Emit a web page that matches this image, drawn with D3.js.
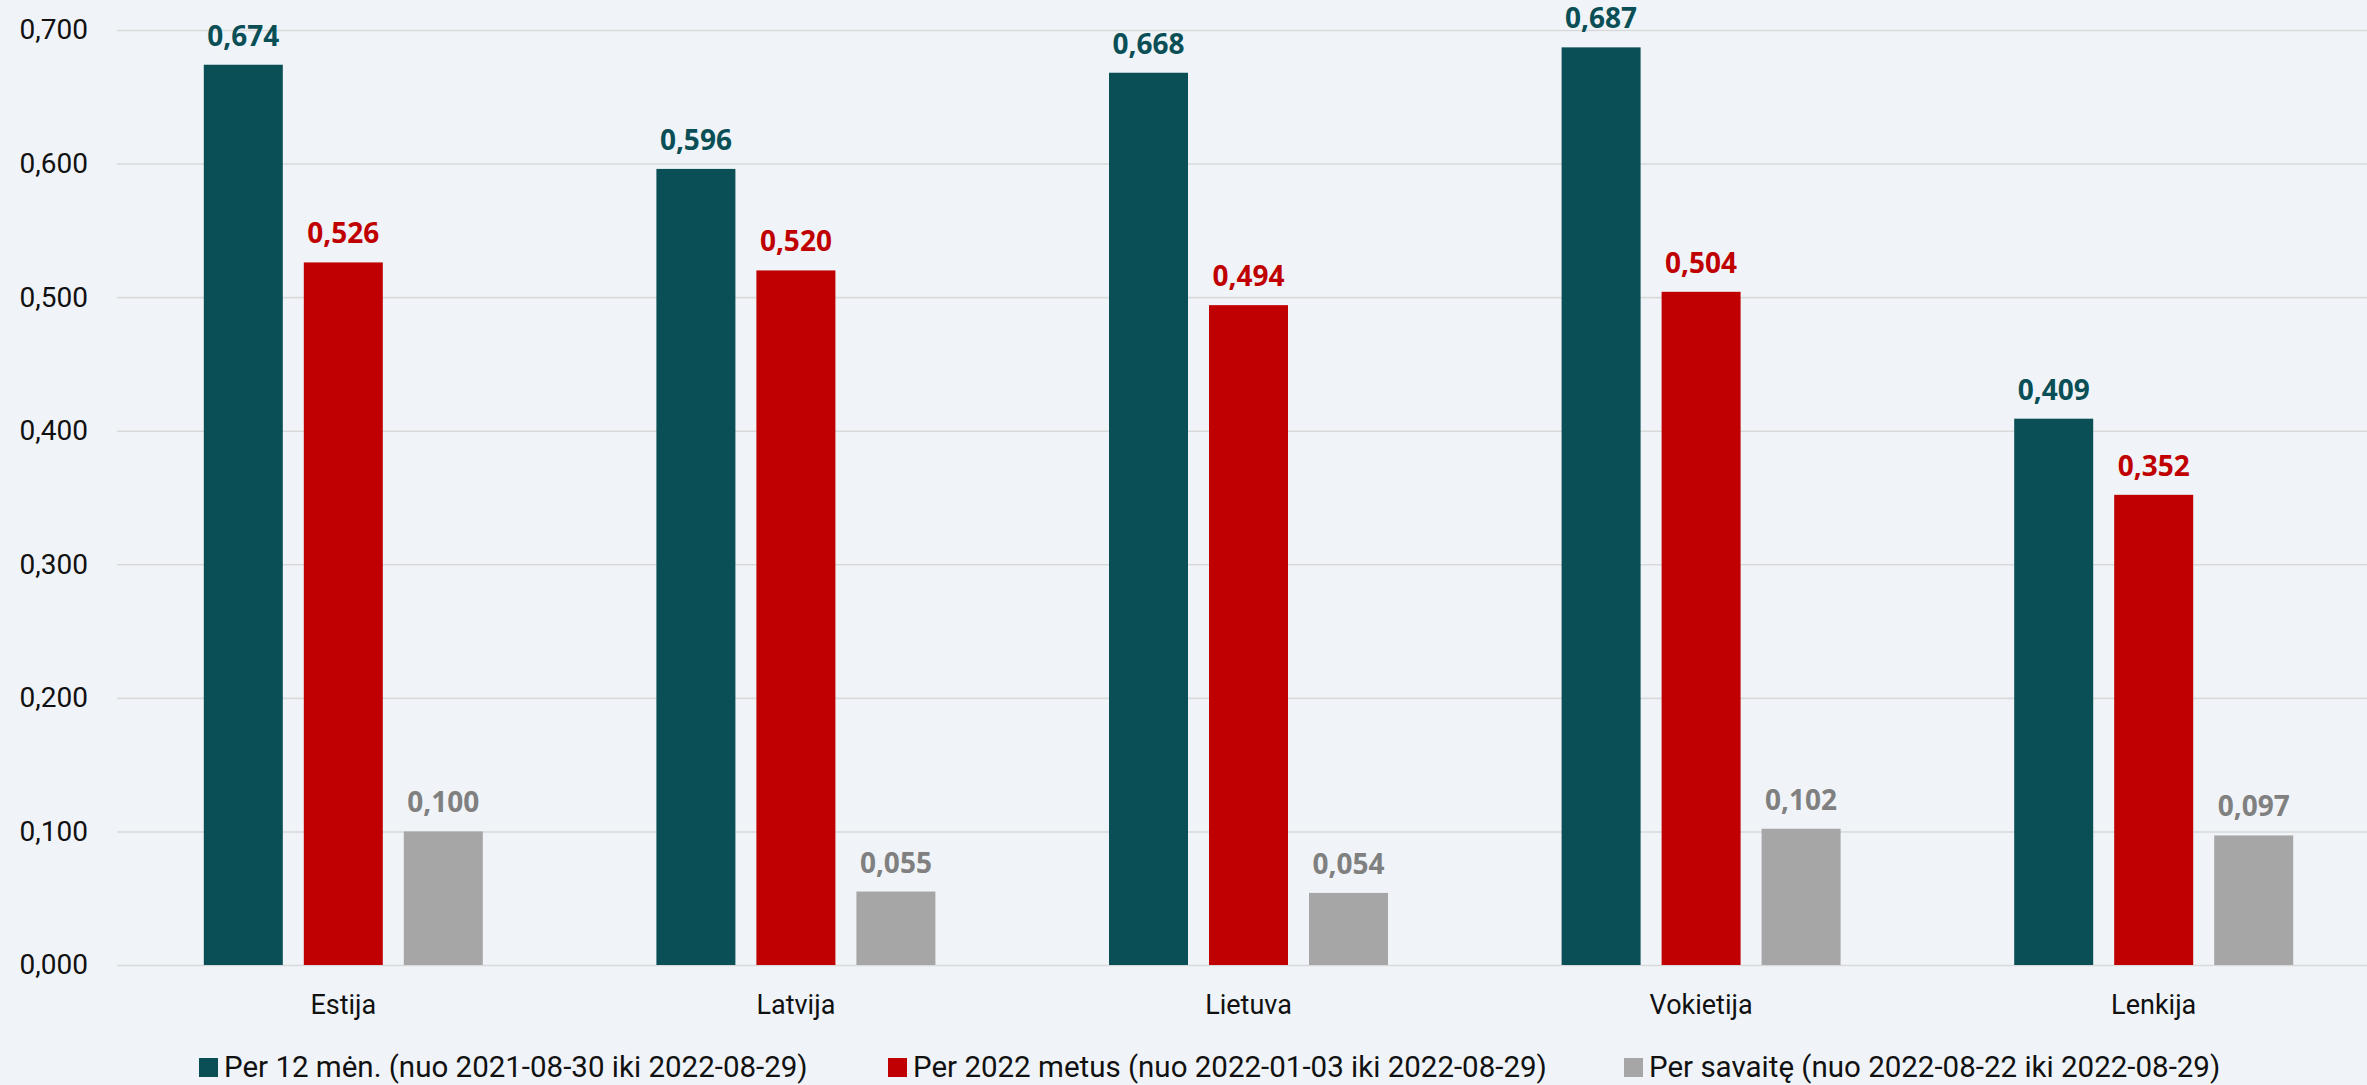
<!DOCTYPE html>
<html><head><meta charset="utf-8">
<script src="https://cdn.jsdelivr.net/npm/d3@7"></script>
<style>
html,body{margin:0;padding:0;background:#F0F4F8;}
svg{display:block;}
</style></head>
<body>
<svg id="chart" width="2367" height="1085"></svg>
<script>
const categories = ["Estija", "Latvija", "Lietuva", "Vokietija", "Lenkija"];
const seriesNames = [
  "Per 12 mėn. (nuo 2021-08-30 iki 2022-08-29)",
  "Per 2022 metus (nuo 2022-01-03 iki 2022-08-29)",
  "Per savaitę (nuo 2022-08-22 iki 2022-08-29)"
];
const s12men = [0.674, 0.596, 0.668, 0.687, 0.409];
const s2022 = [0.526, 0.520, 0.494, 0.504, 0.352];
const sSavaite = [0.100, 0.055, 0.054, 0.102, 0.097];
const yTicks = [0, 0.1, 0.2, 0.3, 0.4, 0.5, 0.6, 0.7];

const barColors = ["#0A4F56", "#C00000", "#A6A6A6"];
const labelColors = ["#0A4F56", "#C00000", "#808080"];
const seriesValues = [s12men, s2022, sSavaite];

const W = 2367, H = 1085;
const plot = {left: 117, right: 2380, top: 30, bottom: 965};
const svg = d3.select("#chart");

const x0 = d3.scaleBand().domain(categories).range([plot.left, plot.right]).padding(0);
const groupW = 279;
const x1 = d3.scaleBand().domain(d3.range(3)).range([0, groupW]).paddingInner(0.21).paddingOuter(0);
const y = d3.scaleLinear().domain([0, 0.7]).range([plot.bottom, plot.top]);

const fmt = v => d3.format(".3f")(v).replace(".", ",");

// gridlines
const yAxis = d3.axisLeft(y).tickValues(yTicks).tickSize(-(plot.right - plot.left)).tickFormat(fmt).tickPadding(29);
const gy = svg.append("g").attr("transform", `translate(${plot.left},0)`).call(yAxis);
gy.select(".domain").remove();
gy.selectAll(".tick line").attr("stroke", "#D9D9D9").attr("stroke-width", 1.6);
gy.selectAll(".tick text").attr("fill", "#111").style("font-family", "Roboto, sans-serif").style("font-size", "28px");

// x axis labels
const xAxis = d3.axisBottom(x0).tickSize(0).tickPadding(30);
const gx = svg.append("g").attr("transform", `translate(0,${plot.bottom})`).call(xAxis);
gx.select(".domain").remove();
gx.selectAll(".tick text").attr("fill", "#111").style("font-family", "Roboto, sans-serif").style("font-size", "27px");

// bars
const data = [];
categories.forEach((c, ci) => {
  seriesValues.forEach((arr, si) => data.push({c, si, v: arr[ci]}));
});
const offset = (x0.bandwidth() - groupW) / 2;
const g = svg.append("g");
g.selectAll("rect").data(data).join("rect")
  .attr("x", d => x0(d.c) + offset + x1(d.si))
  .attr("width", x1.bandwidth())
  .attr("y", d => y(d.v))
  .attr("height", d => y(0) - y(d.v))
  .attr("fill", d => barColors[d.si]);

g.selectAll("text.lbl").data(data).join("text")
  .attr("class", "lbl")
  .attr("x", d => x0(d.c) + offset + x1(d.si) + x1.bandwidth() / 2)
  .attr("y", d => y(d.v) - 19)
  .attr("text-anchor", "middle")
  .attr("fill", d => labelColors[d.si])
  .style("font-family", "'Open Sans', sans-serif")
  .style("font-weight", "700")
  .style("font-size", "28px")
  .text(d => fmt(d.v));

// legend
const legendX = [199, 888, 1624];
const lg = svg.append("g");
seriesNames.forEach((name, i) => {
  lg.append("rect").attr("x", legendX[i]).attr("y", 1058).attr("width", 19).attr("height", 19).attr("fill", barColors[i]);
  lg.append("text").attr("x", legendX[i] + 25).attr("y", 1077)
    .attr("fill", "#111")
    .style("font-family", "Roboto, sans-serif").style("font-size", "29.5px")
    .text(name);
});
</script>
</body></html>
